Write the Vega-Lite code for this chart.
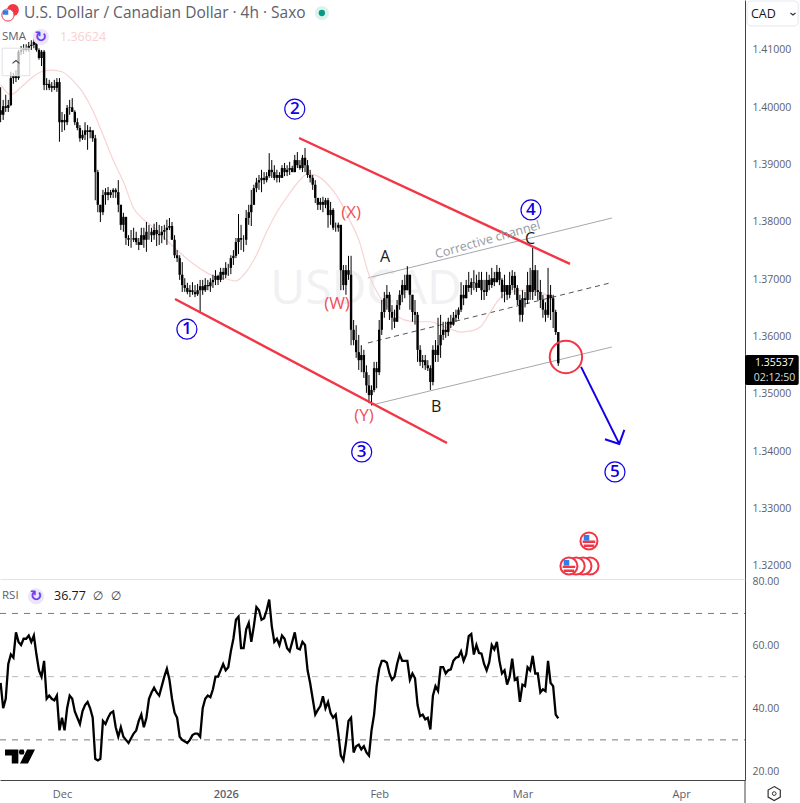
{
  "$schema": "https://vega.github.io/schema/vega-lite/v6.json",
  "background": "white",
  "padding": {"left": -4, "top": 0, "right": 0, "bottom": 0},
  "spacing": 0,
  "bounds": "flush",
  "config": {
    "view": {"stroke": null},
    "text": {"font": "Open Sans"},
    "axis": {"labelFont": "Open Sans", "labelColor": "#5d606b", "ticks": false, "grid": false, "title": null, "domainColor": "#444444"}
  },
  "datasets": {
    "bars": [
      {"t":"2025-11-19T00:00","o":1.3995,"h":1.4035,"l":1.3974,"c":1.3987,"r":48},
      {"t":"2025-11-19T12:00","o":1.3987,"h":1.4013,"l":1.3978,"c":1.4002,"r":40},
      {"t":"2025-11-20T00:00","o":1.4002,"h":1.4022,"l":1.3992,"c":1.3999,"r":43},
      {"t":"2025-11-20T12:00","o":1.3999,"h":1.4013,"l":1.3992,"c":1.4004,"r":54},
      {"t":"2025-11-21T00:00","o":1.4004,"h":1.4062,"l":1.4002,"c":1.4051,"r":57},
      {"t":"2025-11-21T12:00","o":1.4051,"h":1.406,"l":1.4041,"c":1.4055,"r":56},
      {"t":"2025-11-22T00:00","o":1.4055,"h":1.4065,"l":1.4044,"c":1.4051,"r":64},
      {"t":"2025-11-22T12:00","o":1.4051,"h":1.41,"l":1.4048,"c":1.4097,"r":61},
      {"t":"2025-11-23T00:00","o":1.4097,"h":1.4107,"l":1.4091,"c":1.41,"r":60},
      {"t":"2025-11-23T12:00","o":1.41,"h":1.411,"l":1.4093,"c":1.4103,"r":62},
      {"t":"2025-11-24T00:00","o":1.4103,"h":1.411,"l":1.4097,"c":1.41,"r":62},
      {"t":"2025-11-24T12:00","o":1.41,"h":1.4114,"l":1.4097,"c":1.4107,"r":63},
      {"t":"2025-11-25T00:00","o":1.4107,"h":1.4117,"l":1.41,"c":1.4109,"r":61},
      {"t":"2025-11-25T12:00","o":1.4109,"h":1.4121,"l":1.4103,"c":1.4114,"r":63},
      {"t":"2025-11-26T00:00","o":1.4114,"h":1.4114,"l":1.4097,"c":1.41,"r":57},
      {"t":"2025-11-26T12:00","o":1.41,"h":1.4103,"l":1.4083,"c":1.4086,"r":52},
      {"t":"2025-11-27T00:00","o":1.4086,"h":1.41,"l":1.4072,"c":1.4097,"r":50},
      {"t":"2025-11-27T12:00","o":1.4097,"h":1.41,"l":1.403,"c":1.4039,"r":55},
      {"t":"2025-11-28T00:00","o":1.4039,"h":1.4051,"l":1.403,"c":1.4041,"r":43},
      {"t":"2025-11-28T12:00","o":1.4041,"h":1.4048,"l":1.403,"c":1.4034,"r":44},
      {"t":"2025-11-29T00:00","o":1.4034,"h":1.4044,"l":1.4027,"c":1.4037,"r":43},
      {"t":"2025-11-29T12:00","o":1.4037,"h":1.4048,"l":1.403,"c":1.4034,"r":42.5},
      {"t":"2025-11-30T00:00","o":1.4034,"h":1.4051,"l":1.4027,"c":1.4044,"r":44},
      {"t":"2025-11-30T12:00","o":1.4044,"h":1.4051,"l":1.394,"c":1.3974,"r":33},
      {"t":"2025-12-01T00:00","o":1.3974,"h":1.3992,"l":1.3957,"c":1.3978,"r":37},
      {"t":"2025-12-01T12:00","o":1.3978,"h":1.3988,"l":1.396,"c":1.3974,"r":33},
      {"t":"2025-12-02T00:00","o":1.3974,"h":1.4004,"l":1.3969,"c":1.3999,"r":40},
      {"t":"2025-12-02T12:00","o":1.3999,"h":1.4013,"l":1.3987,"c":1.4,"r":44},
      {"t":"2025-12-03T00:00","o":1.4,"h":1.4016,"l":1.3992,"c":1.3992,"r":43},
      {"t":"2025-12-03T12:00","o":1.3992,"h":1.3995,"l":1.3969,"c":1.3974,"r":39},
      {"t":"2025-12-04T00:00","o":1.3974,"h":1.3981,"l":1.396,"c":1.3964,"r":37},
      {"t":"2025-12-04T12:00","o":1.3964,"h":1.3969,"l":1.394,"c":1.3946,"r":35},
      {"t":"2025-12-05T00:00","o":1.3946,"h":1.396,"l":1.3943,"c":1.3952,"r":39},
      {"t":"2025-12-05T12:00","o":1.3952,"h":1.3974,"l":1.3943,"c":1.396,"r":41},
      {"t":"2025-12-06T00:00","o":1.396,"h":1.3969,"l":1.3926,"c":1.3957,"r":42},
      {"t":"2025-12-06T12:00","o":1.3957,"h":1.3966,"l":1.3946,"c":1.396,"r":40},
      {"t":"2025-12-07T00:00","o":1.396,"h":1.3957,"l":1.394,"c":1.3946,"r":37},
      {"t":"2025-12-07T12:00","o":1.3946,"h":1.3952,"l":1.3838,"c":1.3887,"r":24},
      {"t":"2025-12-08T00:00","o":1.3887,"h":1.3891,"l":1.3817,"c":1.383,"r":23.5},
      {"t":"2025-12-08T12:00","o":1.383,"h":1.383,"l":1.38,"c":1.3817,"r":24},
      {"t":"2025-12-09T00:00","o":1.3817,"h":1.3856,"l":1.3812,"c":1.3847,"r":36},
      {"t":"2025-12-09T12:00","o":1.3847,"h":1.3859,"l":1.383,"c":1.3852,"r":35},
      {"t":"2025-12-10T00:00","o":1.3852,"h":1.3861,"l":1.3838,"c":1.3847,"r":37},
      {"t":"2025-12-10T12:00","o":1.3847,"h":1.3856,"l":1.3842,"c":1.3852,"r":38.5},
      {"t":"2025-12-11T00:00","o":1.3852,"h":1.3859,"l":1.3842,"c":1.3856,"r":39},
      {"t":"2025-12-11T12:00","o":1.3856,"h":1.3859,"l":1.3842,"c":1.3852,"r":34},
      {"t":"2025-12-12T00:00","o":1.3852,"h":1.3873,"l":1.3817,"c":1.383,"r":31},
      {"t":"2025-12-12T12:00","o":1.383,"h":1.383,"l":1.3786,"c":1.3795,"r":34},
      {"t":"2025-12-13T00:00","o":1.3795,"h":1.3816,"l":1.3783,"c":1.3809,"r":31},
      {"t":"2025-12-13T12:00","o":1.3809,"h":1.3795,"l":1.376,"c":1.3772,"r":30},
      {"t":"2025-12-14T00:00","o":1.3772,"h":1.3777,"l":1.3758,"c":1.3769,"r":29},
      {"t":"2025-12-14T12:00","o":1.3769,"h":1.3786,"l":1.3755,"c":1.3769,"r":30.5},
      {"t":"2025-12-15T00:00","o":1.3769,"h":1.379,"l":1.3765,"c":1.3772,"r":32},
      {"t":"2025-12-15T12:00","o":1.3772,"h":1.3783,"l":1.376,"c":1.3765,"r":33},
      {"t":"2025-12-16T00:00","o":1.3765,"h":1.3772,"l":1.3751,"c":1.376,"r":36},
      {"t":"2025-12-16T12:00","o":1.376,"h":1.379,"l":1.376,"c":1.3777,"r":38},
      {"t":"2025-12-17T00:00","o":1.3777,"h":1.379,"l":1.3755,"c":1.3769,"r":34},
      {"t":"2025-12-17T12:00","o":1.3769,"h":1.38,"l":1.3748,"c":1.3783,"r":37},
      {"t":"2025-12-18T00:00","o":1.3783,"h":1.3795,"l":1.3769,"c":1.3783,"r":43},
      {"t":"2025-12-18T12:00","o":1.3783,"h":1.379,"l":1.3765,"c":1.3777,"r":45},
      {"t":"2025-12-19T00:00","o":1.3777,"h":1.3797,"l":1.3769,"c":1.3786,"r":46.5},
      {"t":"2025-12-19T12:00","o":1.3786,"h":1.38,"l":1.3758,"c":1.3779,"r":45},
      {"t":"2025-12-20T00:00","o":1.3779,"h":1.3795,"l":1.376,"c":1.3777,"r":44},
      {"t":"2025-12-20T12:00","o":1.3777,"h":1.3793,"l":1.3763,"c":1.3783,"r":47},
      {"t":"2025-12-21T00:00","o":1.3783,"h":1.3795,"l":1.3769,"c":1.3786,"r":50},
      {"t":"2025-12-21T12:00","o":1.3786,"h":1.3804,"l":1.376,"c":1.379,"r":52.5},
      {"t":"2025-12-22T00:00","o":1.379,"h":1.3807,"l":1.3786,"c":1.3793,"r":49},
      {"t":"2025-12-22T12:00","o":1.3793,"h":1.38,"l":1.3769,"c":1.3769,"r":43},
      {"t":"2025-12-23T00:00","o":1.3769,"h":1.3777,"l":1.3737,"c":1.3742,"r":38.6},
      {"t":"2025-12-23T12:00","o":1.3742,"h":1.3751,"l":1.373,"c":1.3737,"r":37},
      {"t":"2025-12-24T00:00","o":1.3737,"h":1.3742,"l":1.3699,"c":1.3708,"r":31},
      {"t":"2025-12-24T12:00","o":1.3708,"h":1.373,"l":1.3678,"c":1.369,"r":30},
      {"t":"2025-12-25T00:00","o":1.369,"h":1.3702,"l":1.3678,"c":1.3685,"r":29.5},
      {"t":"2025-12-25T12:00","o":1.3685,"h":1.3694,"l":1.3674,"c":1.3678,"r":29},
      {"t":"2025-12-26T00:00","o":1.3678,"h":1.369,"l":1.3669,"c":1.3681,"r":30},
      {"t":"2025-12-26T12:00","o":1.3681,"h":1.3695,"l":1.3673,"c":1.3678,"r":31.5},
      {"t":"2025-12-27T00:00","o":1.3678,"h":1.369,"l":1.3669,"c":1.3674,"r":32},
      {"t":"2025-12-27T12:00","o":1.3674,"h":1.3692,"l":1.3671,"c":1.3681,"r":32},
      {"t":"2025-12-28T00:00","o":1.3681,"h":1.3699,"l":1.3643,"c":1.3688,"r":31},
      {"t":"2025-12-28T12:00","o":1.3688,"h":1.3699,"l":1.3673,"c":1.3681,"r":40},
      {"t":"2025-12-29T00:00","o":1.3681,"h":1.3702,"l":1.3678,"c":1.369,"r":43},
      {"t":"2025-12-29T12:00","o":1.369,"h":1.3699,"l":1.3681,"c":1.3688,"r":44},
      {"t":"2025-12-30T00:00","o":1.3688,"h":1.3702,"l":1.3678,"c":1.3695,"r":43.5},
      {"t":"2025-12-30T12:00","o":1.3695,"h":1.3708,"l":1.3685,"c":1.3699,"r":46},
      {"t":"2025-12-31T00:00","o":1.3699,"h":1.3716,"l":1.369,"c":1.3706,"r":50},
      {"t":"2025-12-31T12:00","o":1.3706,"h":1.3708,"l":1.369,"c":1.3699,"r":50},
      {"t":"2026-01-01T00:00","o":1.3699,"h":1.372,"l":1.3695,"c":1.3713,"r":52},
      {"t":"2026-01-01T12:00","o":1.3713,"h":1.372,"l":1.3699,"c":1.3708,"r":54},
      {"t":"2026-01-02T00:00","o":1.3708,"h":1.373,"l":1.3702,"c":1.372,"r":52},
      {"t":"2026-01-02T12:00","o":1.372,"h":1.3727,"l":1.3706,"c":1.372,"r":53},
      {"t":"2026-01-03T00:00","o":1.372,"h":1.3742,"l":1.3709,"c":1.3737,"r":58},
      {"t":"2026-01-03T12:00","o":1.3737,"h":1.3751,"l":1.3725,"c":1.3741,"r":62},
      {"t":"2026-01-04T00:00","o":1.3741,"h":1.3772,"l":1.3737,"c":1.3765,"r":68},
      {"t":"2026-01-04T12:00","o":1.3765,"h":1.3814,"l":1.3744,"c":1.3772,"r":69},
      {"t":"2026-01-05T00:00","o":1.3772,"h":1.3795,"l":1.3751,"c":1.3769,"r":59},
      {"t":"2026-01-05T12:00","o":1.3769,"h":1.3777,"l":1.3748,"c":1.3769,"r":59},
      {"t":"2026-01-06T00:00","o":1.3769,"h":1.3821,"l":1.376,"c":1.3807,"r":65},
      {"t":"2026-01-06T12:00","o":1.3807,"h":1.383,"l":1.3795,"c":1.3817,"r":67},
      {"t":"2026-01-07T00:00","o":1.3817,"h":1.3856,"l":1.3793,"c":1.383,"r":61},
      {"t":"2026-01-07T12:00","o":1.383,"h":1.3865,"l":1.383,"c":1.3859,"r":66},
      {"t":"2026-01-08T00:00","o":1.3859,"h":1.3877,"l":1.3852,"c":1.3869,"r":72},
      {"t":"2026-01-08T12:00","o":1.3869,"h":1.3882,"l":1.3856,"c":1.3873,"r":71},
      {"t":"2026-01-09T00:00","o":1.3873,"h":1.3891,"l":1.3852,"c":1.3877,"r":68},
      {"t":"2026-01-09T12:00","o":1.3877,"h":1.3887,"l":1.3866,"c":1.3873,"r":68.5},
      {"t":"2026-01-10T00:00","o":1.3873,"h":1.3887,"l":1.3869,"c":1.388,"r":71},
      {"t":"2026-01-10T12:00","o":1.388,"h":1.392,"l":1.3877,"c":1.3891,"r":74.4},
      {"t":"2026-01-11T00:00","o":1.3891,"h":1.3908,"l":1.3877,"c":1.3887,"r":66},
      {"t":"2026-01-11T12:00","o":1.3887,"h":1.3899,"l":1.3873,"c":1.3877,"r":61},
      {"t":"2026-01-12T00:00","o":1.3877,"h":1.3891,"l":1.3869,"c":1.3882,"r":62},
      {"t":"2026-01-12T12:00","o":1.3882,"h":1.3887,"l":1.3869,"c":1.3877,"r":60},
      {"t":"2026-01-13T00:00","o":1.3877,"h":1.3899,"l":1.3877,"c":1.3894,"r":63},
      {"t":"2026-01-13T12:00","o":1.3894,"h":1.3903,"l":1.388,"c":1.3887,"r":62},
      {"t":"2026-01-14T00:00","o":1.3887,"h":1.3899,"l":1.388,"c":1.3891,"r":59},
      {"t":"2026-01-14T12:00","o":1.3891,"h":1.3905,"l":1.3882,"c":1.3894,"r":58},
      {"t":"2026-01-15T00:00","o":1.3894,"h":1.3898,"l":1.3887,"c":1.3887,"r":61},
      {"t":"2026-01-15T12:00","o":1.3887,"h":1.3917,"l":1.3887,"c":1.3908,"r":64},
      {"t":"2026-01-16T00:00","o":1.3908,"h":1.3922,"l":1.3894,"c":1.3899,"r":59},
      {"t":"2026-01-16T12:00","o":1.3899,"h":1.3908,"l":1.3891,"c":1.3894,"r":58.6},
      {"t":"2026-01-17T00:00","o":1.3894,"h":1.3917,"l":1.3887,"c":1.3912,"r":61},
      {"t":"2026-01-17T12:00","o":1.3912,"h":1.3929,"l":1.3887,"c":1.3899,"r":60},
      {"t":"2026-01-18T00:00","o":1.3899,"h":1.3908,"l":1.3877,"c":1.3882,"r":52},
      {"t":"2026-01-18T12:00","o":1.3882,"h":1.3891,"l":1.3869,"c":1.3877,"r":48},
      {"t":"2026-01-19T00:00","o":1.3877,"h":1.3882,"l":1.3856,"c":1.3865,"r":43},
      {"t":"2026-01-19T12:00","o":1.3865,"h":1.3873,"l":1.3833,"c":1.3842,"r":38},
      {"t":"2026-01-20T00:00","o":1.3842,"h":1.3842,"l":1.3821,"c":1.383,"r":39.5},
      {"t":"2026-01-20T12:00","o":1.383,"h":1.3842,"l":1.3821,"c":1.3835,"r":40.7},
      {"t":"2026-01-21T00:00","o":1.3835,"h":1.3844,"l":1.3817,"c":1.383,"r":43.8},
      {"t":"2026-01-21T12:00","o":1.383,"h":1.3842,"l":1.3824,"c":1.3838,"r":40},
      {"t":"2026-01-22T00:00","o":1.3838,"h":1.3842,"l":1.379,"c":1.3812,"r":42},
      {"t":"2026-01-22T12:00","o":1.3812,"h":1.3835,"l":1.3795,"c":1.3821,"r":38.5},
      {"t":"2026-01-23T00:00","o":1.3821,"h":1.3824,"l":1.3786,"c":1.379,"r":37},
      {"t":"2026-01-23T12:00","o":1.379,"h":1.3799,"l":1.3783,"c":1.379,"r":38},
      {"t":"2026-01-24T00:00","o":1.379,"h":1.3799,"l":1.3783,"c":1.3795,"r":32},
      {"t":"2026-01-24T12:00","o":1.3795,"h":1.3795,"l":1.3681,"c":1.3716,"r":25},
      {"t":"2026-01-25T00:00","o":1.3716,"h":1.3725,"l":1.3681,"c":1.369,"r":23.5},
      {"t":"2026-01-25T12:00","o":1.369,"h":1.3725,"l":1.3673,"c":1.3716,"r":29},
      {"t":"2026-01-26T00:00","o":1.3716,"h":1.3741,"l":1.3699,"c":1.3708,"r":36},
      {"t":"2026-01-26T12:00","o":1.3708,"h":1.3741,"l":1.3585,"c":1.3612,"r":37},
      {"t":"2026-01-27T00:00","o":1.3612,"h":1.3629,"l":1.3585,"c":1.3594,"r":26},
      {"t":"2026-01-27T12:00","o":1.3594,"h":1.362,"l":1.3563,"c":1.3573,"r":28},
      {"t":"2026-01-28T00:00","o":1.3573,"h":1.3603,"l":1.3542,"c":1.3559,"r":28.5},
      {"t":"2026-01-28T12:00","o":1.3559,"h":1.3585,"l":1.3538,"c":1.3568,"r":27},
      {"t":"2026-01-29T00:00","o":1.3568,"h":1.3577,"l":1.3528,"c":1.3538,"r":28},
      {"t":"2026-01-29T12:00","o":1.3538,"h":1.355,"l":1.3502,"c":1.3515,"r":26},
      {"t":"2026-01-30T00:00","o":1.3515,"h":1.3533,"l":1.3484,"c":1.3498,"r":25},
      {"t":"2026-01-30T12:00","o":1.3498,"h":1.3515,"l":1.348,"c":1.3507,"r":33},
      {"t":"2026-01-31T00:00","o":1.3507,"h":1.3556,"l":1.3503,"c":1.3545,"r":38},
      {"t":"2026-01-31T12:00","o":1.3545,"h":1.3556,"l":1.351,"c":1.3538,"r":47},
      {"t":"2026-02-01T00:00","o":1.3538,"h":1.3629,"l":1.3533,"c":1.3612,"r":52.5},
      {"t":"2026-02-01T12:00","o":1.3612,"h":1.3664,"l":1.3603,"c":1.3643,"r":55},
      {"t":"2026-02-02T00:00","o":1.3643,"h":1.3678,"l":1.3633,"c":1.3667,"r":55},
      {"t":"2026-02-02T12:00","o":1.3667,"h":1.369,"l":1.3647,"c":1.3673,"r":54.4},
      {"t":"2026-02-03T00:00","o":1.3673,"h":1.3678,"l":1.3629,"c":1.3643,"r":51},
      {"t":"2026-02-03T12:00","o":1.3643,"h":1.3655,"l":1.3612,"c":1.3633,"r":49},
      {"t":"2026-02-04T00:00","o":1.3633,"h":1.3647,"l":1.3615,"c":1.3626,"r":50},
      {"t":"2026-02-04T12:00","o":1.3626,"h":1.3664,"l":1.3626,"c":1.3655,"r":54},
      {"t":"2026-02-05T00:00","o":1.3655,"h":1.3681,"l":1.3647,"c":1.3673,"r":57},
      {"t":"2026-02-05T12:00","o":1.3673,"h":1.3699,"l":1.366,"c":1.369,"r":55},
      {"t":"2026-02-06T00:00","o":1.369,"h":1.3708,"l":1.3667,"c":1.3681,"r":55},
      {"t":"2026-02-06T12:00","o":1.3681,"h":1.3723,"l":1.3681,"c":1.3708,"r":55},
      {"t":"2026-02-07T00:00","o":1.3708,"h":1.3699,"l":1.3647,"c":1.3673,"r":49},
      {"t":"2026-02-07T12:00","o":1.3673,"h":1.3673,"l":1.3626,"c":1.3643,"r":51},
      {"t":"2026-02-08T00:00","o":1.3643,"h":1.3664,"l":1.3621,"c":1.3638,"r":49.5},
      {"t":"2026-02-08T12:00","o":1.3638,"h":1.3643,"l":1.3556,"c":1.3577,"r":41},
      {"t":"2026-02-09T00:00","o":1.3577,"h":1.3585,"l":1.3549,"c":1.3556,"r":37.5},
      {"t":"2026-02-09T12:00","o":1.3556,"h":1.3568,"l":1.3545,"c":1.3559,"r":38},
      {"t":"2026-02-10T00:00","o":1.3559,"h":1.3568,"l":1.3542,"c":1.355,"r":36.5},
      {"t":"2026-02-10T12:00","o":1.355,"h":1.3559,"l":1.354,"c":1.3545,"r":37},
      {"t":"2026-02-11T00:00","o":1.3545,"h":1.355,"l":1.3507,"c":1.3521,"r":33.3},
      {"t":"2026-02-11T12:00","o":1.3521,"h":1.3585,"l":1.3515,"c":1.3577,"r":44},
      {"t":"2026-02-12T00:00","o":1.3577,"h":1.3594,"l":1.3556,"c":1.3568,"r":47},
      {"t":"2026-02-12T12:00","o":1.3568,"h":1.3633,"l":1.3556,"c":1.3585,"r":45.5},
      {"t":"2026-02-13T00:00","o":1.3585,"h":1.3638,"l":1.3563,"c":1.3603,"r":53},
      {"t":"2026-02-13T12:00","o":1.3603,"h":1.3626,"l":1.3594,"c":1.3612,"r":53},
      {"t":"2026-02-14T00:00","o":1.3612,"h":1.3626,"l":1.3598,"c":1.3608,"r":51},
      {"t":"2026-02-14T12:00","o":1.3608,"h":1.3633,"l":1.3601,"c":1.3626,"r":52},
      {"t":"2026-02-15T00:00","o":1.3626,"h":1.3638,"l":1.3615,"c":1.3621,"r":52.3},
      {"t":"2026-02-15T12:00","o":1.3621,"h":1.3643,"l":1.3619,"c":1.3633,"r":55},
      {"t":"2026-02-16T00:00","o":1.3633,"h":1.3647,"l":1.3626,"c":1.3638,"r":56},
      {"t":"2026-02-16T12:00","o":1.3638,"h":1.3651,"l":1.363,"c":1.3647,"r":56.3},
      {"t":"2026-02-17T00:00","o":1.3647,"h":1.3695,"l":1.3643,"c":1.3673,"r":58},
      {"t":"2026-02-17T12:00","o":1.3673,"h":1.369,"l":1.3655,"c":1.3667,"r":55},
      {"t":"2026-02-18T00:00","o":1.3667,"h":1.3699,"l":1.3667,"c":1.369,"r":57},
      {"t":"2026-02-18T12:00","o":1.369,"h":1.3713,"l":1.3678,"c":1.3685,"r":62.8},
      {"t":"2026-02-19T00:00","o":1.3685,"h":1.3702,"l":1.3673,"c":1.3695,"r":63.5},
      {"t":"2026-02-19T12:00","o":1.3695,"h":1.3716,"l":1.3681,"c":1.3694,"r":57},
      {"t":"2026-02-20T00:00","o":1.3694,"h":1.3708,"l":1.3678,"c":1.3685,"r":60},
      {"t":"2026-02-20T12:00","o":1.3685,"h":1.3713,"l":1.3688,"c":1.3699,"r":57.5},
      {"t":"2026-02-21T00:00","o":1.3699,"h":1.3713,"l":1.3664,"c":1.3681,"r":57.3},
      {"t":"2026-02-21T12:00","o":1.3681,"h":1.3699,"l":1.3664,"c":1.3678,"r":54},
      {"t":"2026-02-22T00:00","o":1.3678,"h":1.3713,"l":1.3671,"c":1.3699,"r":52},
      {"t":"2026-02-22T12:00","o":1.3699,"h":1.3708,"l":1.3681,"c":1.369,"r":54.5},
      {"t":"2026-02-23T00:00","o":1.369,"h":1.372,"l":1.3685,"c":1.3702,"r":60},
      {"t":"2026-02-23T12:00","o":1.3702,"h":1.3713,"l":1.3688,"c":1.3695,"r":58.6},
      {"t":"2026-02-24T00:00","o":1.3695,"h":1.3725,"l":1.3695,"c":1.3713,"r":61},
      {"t":"2026-02-24T12:00","o":1.3713,"h":1.372,"l":1.369,"c":1.3699,"r":55},
      {"t":"2026-02-25T00:00","o":1.3699,"h":1.3702,"l":1.3667,"c":1.3678,"r":51},
      {"t":"2026-02-25T12:00","o":1.3678,"h":1.3708,"l":1.366,"c":1.369,"r":52},
      {"t":"2026-02-26T00:00","o":1.369,"h":1.369,"l":1.3664,"c":1.3673,"r":47.5},
      {"t":"2026-02-26T12:00","o":1.3673,"h":1.3713,"l":1.3667,"c":1.369,"r":50},
      {"t":"2026-02-27T00:00","o":1.369,"h":1.3716,"l":1.3681,"c":1.3706,"r":55.7},
      {"t":"2026-02-27T12:00","o":1.3706,"h":1.3713,"l":1.3673,"c":1.3685,"r":49},
      {"t":"2026-02-28T00:00","o":1.3685,"h":1.369,"l":1.3655,"c":1.3664,"r":49.6},
      {"t":"2026-02-28T12:00","o":1.3664,"h":1.3673,"l":1.3626,"c":1.3638,"r":42},
      {"t":"2026-03-01T00:00","o":1.3638,"h":1.3681,"l":1.3626,"c":1.3667,"r":47.5},
      {"t":"2026-03-01T12:00","o":1.3667,"h":1.3678,"l":1.3651,"c":1.3664,"r":47},
      {"t":"2026-03-02T00:00","o":1.3664,"h":1.3713,"l":1.3657,"c":1.369,"r":53},
      {"t":"2026-03-02T12:00","o":1.369,"h":1.372,"l":1.3664,"c":1.3678,"r":52},
      {"t":"2026-03-03T00:00","o":1.3678,"h":1.3755,"l":1.3664,"c":1.3716,"r":56.6},
      {"t":"2026-03-03T12:00","o":1.3716,"h":1.3725,"l":1.3671,"c":1.3681,"r":51},
      {"t":"2026-03-04T00:00","o":1.3681,"h":1.3716,"l":1.3664,"c":1.3678,"r":51},
      {"t":"2026-03-04T12:00","o":1.3678,"h":1.3699,"l":1.365,"c":1.3664,"r":45},
      {"t":"2026-03-05T00:00","o":1.3664,"h":1.3673,"l":1.3633,"c":1.3647,"r":46},
      {"t":"2026-03-05T12:00","o":1.3647,"h":1.366,"l":1.3626,"c":1.3638,"r":45.4},
      {"t":"2026-03-06T00:00","o":1.3638,"h":1.372,"l":1.3633,"c":1.3673,"r":55},
      {"t":"2026-03-06T12:00","o":1.3673,"h":1.369,"l":1.3629,"c":1.3667,"r":48},
      {"t":"2026-03-07T00:00","o":1.3667,"h":1.3673,"l":1.3615,"c":1.3643,"r":47},
      {"t":"2026-03-07T12:00","o":1.3643,"h":1.3647,"l":1.3603,"c":1.3608,"r":38},
      {"t":"2026-03-08T00:00","o":1.3608,"h":1.3606,"l":1.3549,"c":1.35537,"r":36.77}
    ],
    "sma": [
      {"t":"2025-11-19T00:00","p":1.4039},{"t":"2025-11-21T00:00","p":1.4022},{"t":"2025-11-23T00:00","p":1.4035},
      {"t":"2025-11-25T00:00","p":1.4051},{"t":"2025-11-27T00:00","p":1.4062},{"t":"2025-11-29T00:00","p":1.4065},
      {"t":"2025-12-01T00:00","p":1.4062},{"t":"2025-12-03T00:00","p":1.4048},{"t":"2025-12-05T00:00","p":1.4027},
      {"t":"2025-12-07T00:00","p":1.3995},{"t":"2025-12-09T00:00","p":1.3952},{"t":"2025-12-11T00:00","p":1.3908},
      {"t":"2025-12-13T00:00","p":1.387},{"t":"2025-12-15T00:00","p":1.3824},{"t":"2025-12-17T00:00","p":1.3804},
      {"t":"2025-12-19T00:00","p":1.379},{"t":"2025-12-21T00:00","p":1.3772},{"t":"2025-12-23T00:00","p":1.3755},
      {"t":"2025-12-25T00:00","p":1.3739},{"t":"2025-12-27T00:00","p":1.3725},{"t":"2025-12-29T00:00","p":1.3713},
      {"t":"2025-12-31T00:00","p":1.3704},{"t":"2026-01-02T00:00","p":1.3701},{"t":"2026-01-04T00:00","p":1.3697},
      {"t":"2026-01-06T00:00","p":1.3713},{"t":"2026-01-08T00:00","p":1.3742},{"t":"2026-01-10T00:00","p":1.3783},
      {"t":"2026-01-12T00:00","p":1.3817},{"t":"2026-01-14T00:00","p":1.3844},{"t":"2026-01-16T00:00","p":1.3868},
      {"t":"2026-01-18T00:00","p":1.3884},{"t":"2026-01-20T00:00","p":1.388},{"t":"2026-01-22T00:00","p":1.3865},
      {"t":"2026-01-24T00:00","p":1.3842},{"t":"2026-01-26T00:00","p":1.3807},{"t":"2026-01-28T00:00","p":1.3769},
      {"t":"2026-01-30T00:00","p":1.3708},{"t":"2026-02-01T00:00","p":1.3671},{"t":"2026-02-03T00:00","p":1.365},
      {"t":"2026-02-05T00:00","p":1.3633},{"t":"2026-02-07T00:00","p":1.3627},{"t":"2026-02-09T00:00","p":1.3626},
      {"t":"2026-02-11T00:00","p":1.3626},{"t":"2026-02-13T00:00","p":1.362},{"t":"2026-02-15T00:00","p":1.3613},
      {"t":"2026-02-17T00:00","p":1.3608},{"t":"2026-02-19T00:00","p":1.361},{"t":"2026-02-21T00:00","p":1.3619},
      {"t":"2026-02-23T00:00","p":1.3647},{"t":"2026-02-25T00:00","p":1.3671},{"t":"2026-02-27T00:00","p":1.3678},
      {"t":"2026-03-01T00:00","p":1.3681},{"t":"2026-03-03T00:00","p":1.368},{"t":"2026-03-05T00:00","p":1.3676},
      {"t":"2026-03-07T00:00","p":1.36624}
    ],
    "redLines": [
      {"id":"lower","t":"2025-12-23T02:00","p":1.36657},{"id":"lower","t":"2026-02-14T06:00","p":1.34146},
      {"id":"upper","t":"2026-01-16T08:00","p":1.39465},{"id":"upper","t":"2026-03-10T07:00","p":1.37268}
    ],
    "channel": [
      {"id":"top","t":"2026-01-29T19:00","p":1.37024},{"id":"top","t":"2026-03-18T12:00","p":1.3807},
      {"id":"bottom","t":"2026-01-30T14:00","p":1.34809},{"id":"bottom","t":"2026-03-18T12:00","p":1.3582}
    ],
    "midline": [
      {"t":"2026-01-29T19:00","p":1.3589},{"t":"2026-03-18T03:00","p":1.36937}
    ],
    "arrow": [
      {"id":"shaft","t":"2026-03-12T11:00","p":1.35472},{"id":"shaft","t":"2026-03-19T22:00","p":1.34129},
      {"id":"head","t":"2026-03-17T03:00","p":1.34211},{"id":"head","t":"2026-03-19T22:00","p":1.34129},{"id":"head","t":"2026-03-20T22:00","p":1.34373}
    ],
    "waves": [
      {"t":"2025-12-25T10:00","p":1.3613,"n":"1"},
      {"t":"2026-01-15T12:00","p":1.3997,"n":"2"},
      {"t":"2026-01-28T14:00","p":1.3399,"n":"3"},
      {"t":"2026-03-02T16:00","p":1.3821,"n":"4"},
      {"t":"2026-03-19T02:00","p":1.3364,"n":"5"}
    ],
    "redLabels": [
      {"t":"2026-01-26T12:00","p":1.3816,"n":"(X)"},
      {"t":"2026-01-23T18:00","p":1.3657,"n":"(W)"},
      {"t":"2026-01-29T01:00","p":1.3462,"n":"(Y)"}
    ],
    "blackLabels": [
      {"t":"2026-02-02T03:00","p":1.3739,"n":"A"},
      {"t":"2026-02-12T03:00","p":1.3477,"n":"B"},
      {"t":"2026-03-02T12:00","p":1.377,"n":"C"}
    ],
    "flagRings": [
      {"t":"2026-03-14T05:00","p":1.32},{"t":"2026-03-12T20:00","p":1.32},{"t":"2026-03-11T12:00","p":1.32},
      {"t":"2026-03-10T02:00","p":1.32},{"t":"2026-03-14T00:00","p":1.32437}
    ],
    "flagFaces": [
      {"t":"2026-03-10T02:00","p":1.32},{"t":"2026-03-14T00:00","p":1.32437}
    ]
  },
  "vconcat": [
    {
      "width": 745,
      "height": 579,
      "encoding": {
        "x": {
          "field": "t",
          "type": "temporal",
          "scale": {"domain": [{"year":2025,"month":11,"date":18,"hours":21,"minutes":7},{"year":2026,"month":4,"date":13,"hours":12}], "nice": false},
          "axis": {"labels": false, "domainColor": "#e0e3eb", "maxExtent": 0, "minExtent": 0, "title": null}
        }
      },
      "layer": [
        {
          "data": {"values": [{"t":"2026-01-29T10:00","p":1.3681,"n":"USDCAD"}]},
          "mark": {"type": "text", "fontSize": 48, "color": "#f1f1f3", "font": "Open Sans"},
          "encoding": {
            "y": {
              "field": "p",
              "type": "quantitative",
              "scale": {"domain": [1.31773, 1.41872], "nice": false, "zero": false},
              "axis": {"orient": "right", "values": [1.32,1.325,1.33,1.335,1.34,1.345,1.35,1.355,1.36,1.365,1.37,1.375,1.38,1.385,1.39,1.395,1.4,1.405,1.41], "format": ".5f", "labelFontSize": 10.5, "labelPadding": 7, "minExtent": 55, "maxExtent": 55, "title": null}
            },
            "text": {"field": "n"}
          }
        },
        {
          "data": {"name": "channel"},
          "mark": {"type": "line", "color": "#a6a8b0", "strokeWidth": 1},
          "encoding": {"y": {"field": "p", "type": "quantitative"}, "detail": {"field": "id"}}
        },
        {
          "data": {"name": "midline"},
          "mark": {"type": "line", "color": "#555555", "strokeWidth": 1, "strokeDash": [5, 4]},
          "encoding": {"y": {"field": "p", "type": "quantitative"}}
        },
        {
          "data": {"name": "sma"},
          "mark": {"type": "line", "color": "#f9d3d3", "strokeWidth": 1.2, "interpolate": "monotone"},
          "encoding": {"y": {"field": "p", "type": "quantitative"}}
        },
        {
          "mark": {"type": "rule", "color": "#222222", "strokeWidth": 1, "strokeDash": [1, 3]},
          "encoding": {"x": {"value": 0}, "x2": {"value": 745}, "y": {"datum": 1.35537}}
        },
        {
          "data": {"name": "bars"},
          "mark": {"type": "rule", "color": "black", "strokeWidth": 1},
          "encoding": {"y": {"field": "h", "type": "quantitative"}, "y2": {"field": "l"}}
        },
        {
          "data": {"name": "bars"},
          "mark": {"type": "rule", "color": "black", "strokeWidth": 2.4},
          "encoding": {"y": {"field": "o", "type": "quantitative"}, "y2": {"field": "c"}}
        },
        {
          "data": {"name": "redLines"},
          "mark": {"type": "line", "color": "#f23645", "strokeWidth": 2.4},
          "encoding": {"y": {"field": "p", "type": "quantitative"}, "detail": {"field": "id"}}
        },
        {
          "data": {"name": "arrow"},
          "mark": {"type": "line", "color": "#1100e6", "strokeWidth": 2},
          "encoding": {"y": {"field": "p", "type": "quantitative"}, "detail": {"field": "id"}}
        },
        {
          "data": {"values": [{"t":"2026-03-09T12:00","p":1.35646}]},
          "mark": {"type": "point", "shape": "circle", "size": 1050, "color": "#f23645", "strokeWidth": 2, "filled": false, "opacity": 1},
          "encoding": {"y": {"field": "p", "type": "quantitative"}}
        },
        {
          "data": {"name": "waves"},
          "mark": {"type": "point", "shape": "circle", "size": 400, "color": "#1100e6", "strokeWidth": 1.2, "filled": false, "opacity": 1},
          "encoding": {"y": {"field": "p", "type": "quantitative"}}
        },
        {
          "data": {"name": "waves"},
          "mark": {"type": "text", "fontSize": 17, "color": "#1100e6", "fontWeight": 600},
          "encoding": {"y": {"field": "p", "type": "quantitative"}, "text": {"field": "n"}}
        },
        {
          "data": {"name": "redLabels"},
          "mark": {"type": "text", "fontSize": 17, "color": "#f2505c"},
          "encoding": {"y": {"field": "p", "type": "quantitative"}, "text": {"field": "n"}}
        },
        {
          "data": {"name": "blackLabels"},
          "mark": {"type": "text", "fontSize": 16, "color": "#1a1a1a"},
          "encoding": {"y": {"field": "p", "type": "quantitative"}, "text": {"field": "n"}}
        },
        {
          "data": {"values": [{"t":"2026-02-22T05:00","p":1.3769,"n":"Corrective channel"}]},
          "mark": {"type": "text", "fontSize": 12.5, "color": "#9598a1", "angle": 344},
          "encoding": {"y": {"field": "p", "type": "quantitative"}, "text": {"field": "n"}}
        },
        {
          "data": {"name": "flagRings"},
          "mark": {"type": "point", "shape": "circle", "size": 290, "stroke": "#f23645", "strokeWidth": 2, "fill": "white", "filled": true, "opacity": 1},
          "encoding": {"y": {"field": "p", "type": "quantitative"}}
        },
        {
          "data": {"name": "flagFaces"},
          "mark": {"type": "point", "shape": "M-.9,-.05H.9V.3H-.9ZM-.75,.5H.75V.85H-.75Z", "size": 196, "fill": "#f23645", "filled": true, "strokeWidth": 0, "opacity": 1},
          "encoding": {"y": {"field": "p", "type": "quantitative"}}
        },
        {
          "data": {"name": "flagFaces"},
          "mark": {"type": "point", "shape": "M-.75,-.85H.05V-.05H-.75Z", "size": 196, "fill": "#2f7fe8", "filled": true, "strokeWidth": 0, "opacity": 1},
          "encoding": {"y": {"field": "p", "type": "quantitative"}}
        },
        {
          "data": {"values": [{"t":"2025-11-21T10:00","p":1.41698}]},
          "mark": {"type": "point", "shape": "circle", "size": 140, "fill": "#f23645", "filled": true, "strokeWidth": 0, "opacity": 1},
          "encoding": {"y": {"field": "p", "type": "quantitative"}}
        },
        {
          "data": {"values": [{"t":"2025-11-20T10:30","p":1.4161}]},
          "mark": {"type": "point", "shape": "circle", "size": 150, "fill": "white", "stroke": "#f23645", "strokeWidth": 1, "filled": true, "opacity": 1},
          "encoding": {"y": {"field": "p", "type": "quantitative"}}
        },
        {
          "data": {"values": [{"t":"2025-11-20T10:30","p":1.4161}]},
          "mark": {"type": "point", "shape": "M-.85,-.8H.05V-.05H-.85Z", "size": 144, "fill": "#2f7fe8", "filled": true, "strokeWidth": 0, "opacity": 1},
          "encoding": {"y": {"field": "p", "type": "quantitative"}}
        },
        {
          "data": {"values": [{"t":"2025-11-23T14:00","p":1.41645,"n":"U.S. Dollar / Canadian Dollar · 4h · Saxo"}]},
          "mark": {"type": "text", "fontSize": 15.5, "color": "#5d606b", "align": "left"},
          "encoding": {"y": {"field": "p", "type": "quantitative"}, "text": {"field": "n"}}
        },
        {
          "data": {"values": [{"t":"2026-01-20T19:00","p":1.41645}]},
          "mark": {"type": "point", "shape": "circle", "size": 200, "fill": "#dcf2ee", "filled": true, "strokeWidth": 0, "opacity": 1},
          "encoding": {"y": {"field": "p", "type": "quantitative"}}
        },
        {
          "data": {"values": [{"t":"2026-01-20T19:00","p":1.41645}]},
          "mark": {"type": "point", "shape": "circle", "size": 40, "fill": "#089981", "filled": true, "strokeWidth": 0, "opacity": 1},
          "encoding": {"y": {"field": "p", "type": "quantitative"}}
        },
        {
          "data": {"values": [{"t":"2025-11-19T06:30","p":1.41227,"n":"SMA"}]},
          "mark": {"type": "text", "fontSize": 11.5, "color": "#5d606b", "align": "left"},
          "encoding": {"y": {"field": "p", "type": "quantitative"}, "text": {"field": "n"}}
        },
        {
          "data": {"values": [{"t":"2025-11-26T21:00","p":1.41227}]},
          "mark": {"type": "point", "shape": "circle", "size": 260, "fill": "#ece6fb", "filled": true, "strokeWidth": 0, "opacity": 1},
          "encoding": {"y": {"field": "p", "type": "quantitative"}}
        },
        {
          "data": {"values": [{"t":"2025-11-26T21:00","p":1.41227,"n":"↻"}]},
          "mark": {"type": "text", "fontSize": 15, "color": "#6c3ef0", "font": "DejaVu Sans", "fontWeight": "bold"},
          "encoding": {"y": {"field": "p", "type": "quantitative"}, "text": {"field": "n"}}
        },
        {
          "data": {"values": [{"t":"2025-11-30T14:30","p":1.41227,"n":"1.36624"}]},
          "mark": {"type": "text", "fontSize": 12.5, "color": "#f9cfd2", "align": "left"},
          "encoding": {"y": {"field": "p", "type": "quantitative"}, "text": {"field": "n"}}
        },
        {
          "data": {"values": [{"t":"2025-11-22T00:00","p":1.40791}]},
          "mark": {"type": "point", "shape": "square", "size": 760, "fill": "white", "fillOpacity": 0.7, "stroke": "#dfe1e6", "strokeWidth": 1, "filled": true, "opacity": 1},
          "encoding": {"y": {"field": "p", "type": "quantitative"}}
        },
        {
          "data": {"values": [{"t":"2025-11-22T00:00","p":1.40791}]},
          "mark": {"type": "point", "shape": "M-1,.4L0,-.4L1,.4", "size": 49, "stroke": "#444444", "strokeWidth": 1.2, "filled": false, "opacity": 1},
          "encoding": {"y": {"field": "p", "type": "quantitative"}}
        },
        {
          "data": {"values": [{"t":"2026-04-13T12:00","t2":"2026-04-24T00:00","p":1.35681,"p2":1.35158}]},
          "mark": {"type": "rect", "color": "black", "cornerRadius": 2},
          "encoding": {"x2": {"field": "t2"}, "y": {"field": "p", "type": "quantitative"}, "y2": {"field": "p2"}}
        },
        {
          "data": {"values": [{"t":"2026-04-19T06:00","p":1.35537,"n":"1.35537"}]},
          "mark": {"type": "text", "fontSize": 10.5, "color": "white"},
          "encoding": {"y": {"field": "p", "type": "quantitative"}, "text": {"field": "n"}}
        },
        {
          "data": {"values": [{"t":"2026-04-19T06:00","p":1.35287,"n":"02:12:50"}]},
          "mark": {"type": "text", "fontSize": 10.5, "color": "#dddddd"},
          "encoding": {"y": {"field": "p", "type": "quantitative"}, "text": {"field": "n"}}
        },
        {
          "data": {"values": [{"t":"2026-04-13T21:30","t2":"2026-04-23T21:30","p":1.41855,"p2":1.41419}]},
          "mark": {"type": "rect", "fill": "white", "stroke": "#e6e8ee", "strokeWidth": 1, "cornerRadius": 4},
          "encoding": {"x2": {"field": "t2"}, "y": {"field": "p", "type": "quantitative"}, "y2": {"field": "p2"}}
        },
        {
          "data": {"values": [{"t":"2026-04-14T16:00","p":1.41628,"n":"CAD"}]},
          "mark": {"type": "text", "fontSize": 12.5, "color": "#131722", "align": "left"},
          "encoding": {"y": {"field": "p", "type": "quantitative"}, "text": {"field": "n"}}
        },
        {
          "data": {"values": [{"t":"2026-04-22T21:00","p":1.41628}]},
          "mark": {"type": "point", "shape": "M-1,-.4L0,.4L1,-.4", "size": 25, "stroke": "#333333", "strokeWidth": 1.2, "filled": false, "opacity": 1},
          "encoding": {"y": {"field": "p", "type": "quantitative"}}
        }
      ]
    },
    {
      "width": 745,
      "height": 201,
      "encoding": {
        "x": {
          "field": "t",
          "type": "temporal",
          "scale": {"domain": [{"year":2025,"month":11,"date":18,"hours":21,"minutes":7},{"year":2026,"month":4,"date":13,"hours":12}], "nice": false},
          "axis": {
            "values": [{"year":2025,"month":12,"date":1},{"year":2026,"month":1,"date":2},{"year":2026,"month":2,"date":1},{"year":2026,"month":3,"date":1},{"year":2026,"month":4,"date":1}],
            "labelExpr": "month(datum.value) == 0 ? '2026' : timeFormat(datum.value, '%b')",
            "labelFontSize": 11,
            "labelFontWeight": {"condition": {"test": "month(datum.value) == 0", "value": 600}, "value": 400},
            "labelPadding": 8,
            "minExtent": 23,
            "maxExtent": 23,
            "title": null
          }
        }
      },
      "layer": [
        {
          "data": {"values": [{"lvl":70},{"lvl":30}]},
          "mark": {"type": "rule", "color": "#787b86", "strokeWidth": 1, "strokeDash": [6, 6]},
          "encoding": {
            "x": {"value": 0},
            "x2": {"value": 745},
            "y": {
              "field": "lvl",
              "type": "quantitative",
              "scale": {"domain": [17.3, 80.9], "nice": false, "zero": false},
              "axis": {"orient": "right", "values": [20,30,40,50,60,70,80], "format": ".2f", "labelFontSize": 10.5, "labelPadding": 7, "minExtent": 55, "maxExtent": 55, "title": null}
            }
          }
        },
        {
          "data": {"values": [{"lvl":50}]},
          "mark": {"type": "rule", "color": "#b8bac2", "strokeWidth": 1, "strokeDash": [6, 6]},
          "encoding": {"x": {"value": 0}, "x2": {"value": 745}, "y": {"field": "lvl", "type": "quantitative"}}
        },
        {
          "data": {"name": "bars"},
          "mark": {"type": "line", "color": "black", "strokeWidth": 2.3},
          "encoding": {"y": {"field": "r", "type": "quantitative"}}
        },
        {
          "data": {"values": [{"t":"2025-11-22T19:00","r":24.75}]},
          "mark": {"type": "point", "shape": "M-1,-.47H-.11V.47H-.55V-.07H-1ZM-.02,-.47H.24L.3,-.3L.24,-.13H-.02L-.08,-.3ZM.47,-.47H1L.53,.47H0Z", "size": 900, "fill": "black", "filled": true, "strokeWidth": 0, "opacity": 1},
          "encoding": {"y": {"field": "r", "type": "quantitative"}}
        },
        {
          "data": {"values": [{"t":"2025-11-19T06:30","r":75.4,"n":"RSI"}]},
          "mark": {"type": "text", "fontSize": 11.5, "color": "#5d606b", "align": "left"},
          "encoding": {"y": {"field": "r", "type": "quantitative"}, "text": {"field": "n"}}
        },
        {
          "data": {"values": [{"t":"2025-11-25T22:00","r":75.4}]},
          "mark": {"type": "point", "shape": "circle", "size": 260, "fill": "#ece6fb", "filled": true, "strokeWidth": 0, "opacity": 1},
          "encoding": {"y": {"field": "r", "type": "quantitative"}}
        },
        {
          "data": {"values": [{"t":"2025-11-25T22:00","r":75.4,"n":"↻"}]},
          "mark": {"type": "text", "fontSize": 15, "color": "#6c3ef0", "font": "DejaVu Sans", "fontWeight": "bold"},
          "encoding": {"y": {"field": "r", "type": "quantitative"}, "text": {"field": "n"}}
        },
        {
          "data": {"values": [{"t":"2025-11-29T10:30","r":75.4,"n":"36.77"}]},
          "mark": {"type": "text", "fontSize": 12.5, "color": "#131722", "align": "left"},
          "encoding": {"y": {"field": "r", "type": "quantitative"}, "text": {"field": "n"}}
        },
        {
          "data": {"values": [{"t":"2025-12-08T01:00","r":75.4,"n":"∅"},{"t":"2025-12-11T13:00","r":75.4,"n":"∅"}]},
          "mark": {"type": "text", "fontSize": 12, "color": "#444444", "font": "DejaVu Sans"},
          "encoding": {"y": {"field": "r", "type": "quantitative"}, "text": {"field": "n"}}
        },
        {
          "data": {"values": [{"t":"2026-04-13T12:00","r":17.3,"r2":10.0}]},
          "mark": {"type": "rule", "color": "#444444", "strokeWidth": 1, "clip": false},
          "encoding": {"y": {"field": "r", "type": "quantitative"}, "y2": {"field": "r2"}}
        },
        {
          "data": {"values": [{"t":"2026-04-19T05:00","r":13.0}]},
          "mark": {"type": "point", "shape": "M0,-1L.87,-.5V.5L0,1L-.87,.5V-.5Z", "size": 196, "stroke": "#333333", "strokeWidth": 1.2, "filled": false, "opacity": 1},
          "encoding": {"y": {"field": "r", "type": "quantitative"}}
        },
        {
          "data": {"values": [{"t":"2026-04-19T05:00","r":13.0}]},
          "mark": {"type": "point", "shape": "circle", "size": 14, "stroke": "#333333", "strokeWidth": 1, "filled": false, "opacity": 1},
          "encoding": {"y": {"field": "r", "type": "quantitative"}}
        }
      ]
    }
  ]
}
